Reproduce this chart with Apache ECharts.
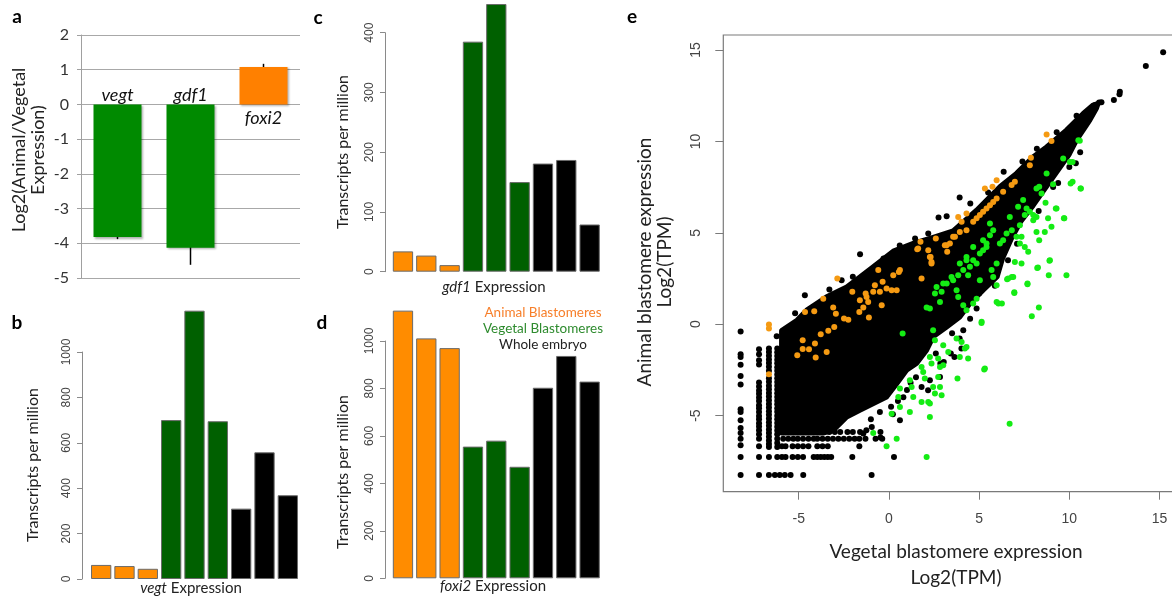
<!DOCTYPE html>
<html><head><meta charset="utf-8">
<script src="https://cdn.jsdelivr.net/npm/echarts@6/dist/echarts.min.js"></script>
<style>html,body{margin:0;padding:0;background:#fff}#c{width:1172px;height:596px}</style>
</head><body><div id="c"></div>
<script>
// ---------- Panel a: log2 ratio ----------
const ratioGenes = ['vegt', 'gdf1', 'foxi2'];
const ratioValues = [-3.82, -4.13, 1.08];
const ratioErrLow = [-3.88, -4.62, 1.00];
const ratioErrHigh = [-3.73, -3.67, 1.17];

// ---------- Panels b-d: TPM bars ----------
const sampleNames = ['A1', 'A2', 'A3', 'V1', 'V2', 'V3', 'W1', 'W2', 'W3'];
const sampleGroup = [0, 0, 0, 1, 1, 1, 2, 2, 2];
const vegtTPM = [62, 57, 45, 700, 1182, 695, 310, 558, 369];
const gdf1TPM = [34, 27, 11, 385, 448, 150, 181, 187, 79];
const foxi2TPM = [1128, 1011, 970, 555, 580, 470, 803, 937, 829];

// ---------- Panel e: scatter ----------
const scatterTicks = [-5, 0, 5, 10, 15];
// outline of the dense black cloud (vegetal x, animal y)
const cloudOutline = [
  [-5.95, -5.95], [-5.95, -0.35], [-5.1, 0.22], [-4.56, 0.77], [-3.45, 1.5], [-2.34, 2.04],
  [-1.61, 2.59], [-0.87, 3.14], [0.24, 4.0], [1.35, 4.42], [2.45, 4.75], [3.56, 5.1],
  [4.86, 6.24], [6.15, 7.52], [7.07, 8.25], [8.0, 9.16], [8.74, 9.7], [9.84, 10.62],
  [10.77, 11.53], [11.32, 11.99], [11.6, 12.08], [11.5, 11.8], [11.14, 11.17], [10.77, 10.62],
  [10.4, 10.07], [10.0, 9.3], [9.5, 8.6], [9.0, 7.9], [8.5, 7.2], [8.0, 6.5], [7.3, 5.6],
  [6.8, 4.7], [6.3, 3.6], [6.0, 2.6], [5.22, 1.86], [4.49, 1.13], [3.93, 0.4], [3.2, -0.15],
  [2.45, -0.69], [2.09, -1.42], [1.53, -2.15], [0.98, -2.52], [0.43, -3.25], [-0.13, -3.98],
  [-1.61, -4.71], [-2.34, -5.07], [-3.08, -5.8], [-3.64, -5.95]
];
const blackPoints = [
  [15.2, 14.87], [14.24, 14.12], [12.8, 12.71], [12.78, 12.58], [12.47, 12.26], [11.65, 12.13],
  [11.78, 12.14], [11.4, 11.98], [10.36, 8.8], [9.38, 7.73], [6.36, 8.34], [3.92, 6.93],
  [4.51, 6.6], [2.75, 5.84], [3.2, 5.91], [1.45, 4.69], [-1.6, 3.83], [-4.66, 1.59],
  [-6.22, -0.66], [-2.62, 2.41], [2.18, 4.96], [0.6, 4.3], [-0.3, 3.6], [-2.0, 2.6],
  [-3.3, 1.9], [-5.2, 0.6], [5.5, 7.2], [7.4, 8.9], [8.2, 9.6], [9.3, 10.5], [10.4, 11.4],
  [5.87, 2.1], [5.0, 1.68], [4.12, -0.33], [4.86, 0.86], [2.27, -3.07], [2.17, -3.61],
  [2.85, -2.15], [3.04, -2.06], [3.43, -1.6], [3.63, -1.79], [4.02, -1.33], [3.92, -0.78],
  [2.83, -2.88], [1.81, -3.43], [0.61, -5.25], [0.22, -4.93], [0.12, -4.52], [-1.25, -5.8],
  [-0.95, -5.62], [-0.47, -5.9], [-0.47, -6.2], [-1.42, -5.98], [1.5, -2.9], [1.0, -3.6],
  [0.5, -4.2], [1.2, -3.2], [0.8, -4.0], [-0.5, -4.8], [-1.0, -5.2], [2.6, -1.6], [3.5, -0.5],
  [4.5, 0.3], [6.6, 3.5], [7.1, 4.4], [8.3, 6.2], [9.1, 7.5], [10.0, 8.6], [10.6, 9.4]
];
// low-count genes fall on discrete log2(TPM) levels: [x, list of y]
const discreteColumns = [
  [-8.22, [-0.40, -1.64, -1.79, -2.21, -2.83, -3.30, -4.65, -4.80, -5.25, -5.67, -5.95, -6.26, -6.62, -7.26, -8.25]],
  [-7.20, [-1.37, -1.64, -1.97, -2.20, -3.19, -3.40, -3.62, -3.80, -4.01, -4.20, -4.43, -4.60, -4.80, -5.02, -5.20, -5.41, -5.60, -5.80, -6.02, -6.26, -6.68, -7.26, -8.25]],
  [-6.65, [-1.33, -1.52, -1.72, -1.93, -2.12, -2.33, -2.55, -2.95, -3.15, -3.36, -3.55, -3.76, -3.95, -4.16, -4.36, -4.55, -4.76, -4.95, -5.16, -5.36, -5.55, -5.76, -5.95, -6.16, -6.36, -6.55, -6.72, -7.26, -8.25]],
  [-6.19, [-1.33, -1.53, -1.74, -1.94, -2.14, -2.35, -2.55, -2.75, -2.96, -3.16, -3.36, -3.57, -3.77, -3.98, -4.18, -4.38, -4.59, -4.79, -5.00, -5.20, -5.40, -5.61, -5.81, -6.02, -6.26, -6.50, -6.72, -7.26]]
];
// [y, list of x]
const discreteRows = [
  [-8.25, [-6.32, -6.05, -5.77, -5.45, -4.75, -0.96]],
  [-7.26, [-5.93, -5.73, -5.34, -5.05, -4.76, -4.17, -3.97, -3.78, -3.58, -3.39, -3.20, -2.03, 0.28]],
  [-6.68, [-5.93, -5.73, -5.34, -5.05, -4.76, -4.46, -3.97, -3.68, -3.39, -1.64]],
  [-6.26, [-5.86, -5.58, -5.30, -5.05, -4.76, -4.46, -4.17, -3.97, -3.68, -3.39, -3.10, -2.80, -2.50, -2.20, -1.90, -1.64, -1.30, -0.74, -0.37]],
  [-5.90, [-3.30, -3.00, -2.70, -2.30, -2.00, -1.60]]
];
const animalPoints = [
  [-6.65, -0.02], [-6.65, -0.24], [-6.65, -2.74], [-5.08, -1.70], [-4.78, -0.88], [-4.78, -1.36],
  [-4.43, -1.37], [-4.10, -1.06], [-4.06, -1.82], [-3.45, -1.52], [-3.78, -0.55], [-3.36, -0.36],
  [-3.03, -0.15], [-4.65, 0.67], [-4.14, 0.71], [-3.64, 1.40], [-3.09, 0.91], [-2.94, 0.58],
  [-2.49, 0.31], [-2.25, 0.25], [-2.86, 2.50], [-2.03, 1.77], [-1.61, 1.31], [-1.64, 0.67],
  [-1.42, 0.91], [-1.29, 1.68], [-1.24, 1.49], [-1.15, 1.22], [-1.11, 0.37], [-0.87, 1.77],
  [-0.78, 2.13], [-0.59, 2.96], [-0.50, 1.77], [-0.40, 1.04], [-0.35, 2.32], [-0.13, 1.95],
  [0.15, 1.86], [0.43, 1.86], [0.24, 2.68], [0.55, 2.86], [1.62, 4.14], [1.81, 2.50],
  [2.18, 4.05], [2.27, 3.68], [2.36, 3.32], [2.60, 4.69], [3.20, 4.32], [3.23, 3.96],
  [3.56, 4.78], [4.30, 5.14], [8.74, 10.38], [9.01, 10.02], [7.87, 9.10], [7.81, 8.70],
  [5.97, 7.88], [5.32, 7.43], [5.74, 7.52], [6.98, 7.79], [6.80, 7.61], [6.33, 7.24],
  [5.97, 6.88], [5.78, 6.69], [5.60, 6.51], [5.41, 6.33], [5.22, 6.15], [5.04, 5.97],
  [4.86, 5.79], [4.67, 5.60], [3.93, 5.05], [3.66, 4.78], [3.38, 4.42], [4.30, 6.06],
  [4.03, 5.60], [3.84, 5.87], [1.75, 4.51], [1.57, 4.10], [2.31, 3.68], [2.36, 3.41],
  [3.10, 4.32], [0.61, 2.96]
];
const vegetalPoints = [
  [10.58, 10.03], [10.50, 10.07], [9.66, 9.07], [10.03, 8.88], [10.18, 8.88], [10.18, 7.79],
  [10.07, 7.70], [10.64, 7.43], [8.74, 8.25], [9.10, 7.65], [8.33, 7.52], [8.46, 7.15],
  [8.18, 7.43], [8.68, 6.64], [9.25, 6.33], [9.70, 5.79], [8.82, 5.79], [9.01, 5.33],
  [8.64, 5.05], [8.18, 5.05], [8.33, 4.60], [7.72, 3.96], [8.92, 3.50], [8.22, 3.08],
  [9.84, 2.68], [8.86, 2.68], [8.26, 3.10], [7.68, 2.19], [6.55, 2.46], [6.81, 2.59],
  [6.95, 1.75], [7.63, 6.33], [7.44, 6.79], [7.16, 6.42], [7.53, 5.97], [7.81, 6.15],
  [8.00, 5.97], [6.70, 5.87], [7.07, 4.78], [6.81, 5.14], [7.26, 5.42], [8.18, 5.87],
  [8.00, 5.69], [7.26, 4.42], [7.53, 4.23], [7.35, 4.78], [6.52, 4.96], [6.33, 4.60],
  [6.15, 4.42], [5.78, 5.14], [5.60, 4.87], [5.41, 4.42], [5.22, 4.05], [5.60, 5.51],
  [4.30, 3.50], [4.49, 3.14], [3.93, 3.32], [4.12, 2.96], [4.67, 3.50], [4.39, 2.68],
  [3.84, 2.68], [6.98, 3.41], [7.35, 3.32], [6.61, 2.50], [6.89, 2.59], [7.68, 2.23],
  [3.01, 2.23], [3.47, 2.59], [2.64, 2.04], [5.97, 3.32], [5.69, 2.96], [5.78, 2.59],
  [5.04, 2.41], [2.92, 1.77], [3.20, 2.23], [3.56, 2.41], [2.55, 1.68], [2.83, 1.22],
  [3.75, 1.86], [3.84, 1.49], [4.12, 1.04], [4.30, 0.77], [4.67, 1.13], [4.86, 1.40],
  [4.30, 3.68], [4.67, 4.23], [5.22, 4.60], [4.86, 3.32], [5.04, 3.87], [5.41, 4.23],
  [5.14, 0.13], [5.32, -2.42], [5.97, 2.13], [5.97, 1.22], [2.45, -0.33], [2.55, -0.88],
  [3.01, -1.15], [3.29, -1.52], [3.75, -0.78], [4.03, -0.97], [4.30, -1.24], [3.93, -1.79],
  [2.27, -1.79], [2.36, -2.15], [2.73, -1.88], [2.83, -2.34], [3.01, -2.24], [2.73, -2.88],
  [2.83, -3.43], [2.92, -3.89], [2.45, -3.43], [2.55, -3.79], [1.81, -2.34], [1.90, -2.61],
  [1.99, -2.97], [1.81, -4.25], [2.18, -4.25], [2.27, -4.34], [1.16, -3.07], [1.26, -3.43],
  [1.35, -3.98], [1.16, -4.80], [0.61, -3.52], [0.52, -3.98], [0.61, -4.53], [0.15, -4.89],
  [2.27, -5.07], [3.80, -2.97], [5.28, -2.48], [-0.87, -5.95], [-0.13, -6.68], [0.43, -6.26],
  [2.09, -7.26], [4.39, -1.88], [4.21, -1.33], [6.69, -5.45], [8.31, 0.91], [7.92, 0.44],
  [6.95, 1.71], [6.07, 1.13], [6.26, 1.13], [5.13, 0.07], [0.76, -0.51], [2.27, 0.86],
  [2.09, 0.91], [9.72, 5.79], [9.29, 6.33], [10.62, 7.43], [8.90, 3.47]
];

// ---------- styles ----------
const FONT = 'Lato, "Open Sans", sans-serif';
const SANS = '"Liberation Sans", Arial, sans-serif';
const ratioColors = ['#008A00', '#008A00', '#FF8000'];
const groupColors = ['#FF8C00', '#006000', '#000000'];

const discreteBlack = [];
discreteColumns.forEach(([x, ys]) => ys.forEach(y => discreteBlack.push([x, y])));
discreteRows.forEach(([y, xs]) => xs.forEach(x => discreteBlack.push([x, y])));

function tpmBars(values, idx) {
  return {
    type: 'bar', xAxisIndex: idx, yAxisIndex: idx, clip: false, barCategoryGap: '13%',
    data: values.map((v, i) => ({ value: v, itemStyle: { color: groupColors[sampleGroup[i]] } })),
    itemStyle: { borderColor: '#6a6a6a', borderWidth: 1 }
  };
}
function tpmYAxis(idx, max, interval, offset) {
  return {
    gridIndex: idx, type: 'value', min: 0, max: max, interval: interval, offset: offset,
    axisLine: { show: true, onZero: false, lineStyle: { color: '#8a8a8a', width: 1 } },
    axisTick: { show: true, length: 5, lineStyle: { color: '#8a8a8a' } },
    splitLine: { show: false },
    axisLabel: { rotate: 90, fontSize: 12, color: '#444', fontFamily: SANS, margin: 9, formatter: v => String(v) }
  };
}
function catAxis(idx, data) {
  return { gridIndex: idx, type: 'category', data: data, axisLine: { show: false }, axisTick: { show: false }, axisLabel: { show: false } };
}
function txt(text, x, y, size, opts) {
  return Object.assign({ type: 'text', x: x, y: y, style: Object.assign({
    text: text, fontSize: size, fontFamily: FONT, fill: '#222', align: 'center', verticalAlign: 'middle'
  }, (opts && opts.style) || {}) }, (opts && opts.el) || {});
}

const chart = echarts.init(document.getElementById('c'), null, { renderer: 'canvas' });
const option = {
  animation: false,
  backgroundColor: '#fff',
  grid: [
    { left: 81, top: 35, width: 219, height: 243, outerBoundsMode: 'none' },
    { left: 89.5, top: 352, width: 210, height: 227, outerBoundsMode: 'none' },
    { left: 391.3, top: 32.7, width: 210, height: 239, outerBoundsMode: 'none' },
    { left: 391.3, top: 341, width: 210, height: 237.3, outerBoundsMode: 'none' },
    { left: 723.3, top: 35, right: -11, height: 456.7, outerBoundsMode: 'none', show: true,
      borderColor: '#7a7a7a', borderWidth: 1.2, backgroundColor: 'transparent' }
  ],
  xAxis: [
    catAxis(0, ratioGenes),
    catAxis(1, sampleNames),
    catAxis(2, sampleNames),
    catAxis(3, sampleNames),
    { gridIndex: 4, type: 'value', min: -9.18, max: 16.3, position: 'bottom',
      axisLine: { show: false, onZero: false }, splitLine: { show: false },
      axisTick: { show: true, length: 8, lineStyle: { color: '#7a7a7a' }, customValues: scatterTicks },
      axisLabel: { customValues: scatterTicks, fontSize: 14, color: '#444', fontFamily: SANS, margin: 20 } }
  ],
  yAxis: [
    { gridIndex: 0, type: 'value', min: -5, max: 2, interval: 1,
      axisLine: { show: true, onZero: false, lineStyle: { color: '#A0A0A0' } },
      axisTick: { show: true, length: 4, lineStyle: { color: '#A0A0A0' } },
      splitLine: { show: true, lineStyle: { color: '#A8A8A8', width: 1 } },
      axisLabel: { fontSize: 16, color: '#333', fontFamily: FONT, margin: 12 } },
    tpmYAxis(1, 1000, 200, 7.5),
    tpmYAxis(2, 400, 100, 6.3),
    tpmYAxis(3, 1000, 200, 6.3),
    { gridIndex: 4, type: 'value', min: -9.16, max: 15.82, position: 'left',
      axisLine: { show: false, onZero: false }, splitLine: { show: false },
      axisTick: { show: true, length: 8, lineStyle: { color: '#7a7a7a' }, customValues: scatterTicks },
      axisLabel: { customValues: scatterTicks, rotate: 90, fontSize: 14, color: '#444', fontFamily: SANS, margin: 20 } }
  ],
  series: [
    { type: 'bar', xAxisIndex: 0, yAxisIndex: 0, barWidth: 48,
      data: ratioValues.map((v, i) => ({ value: v, itemStyle: { color: ratioColors[i] } })),
      itemStyle: { shadowBlur: 2, shadowOffsetX: 1.5, shadowOffsetY: 1.5, shadowColor: 'rgba(0,0,0,0.3)' } },
    { type: 'custom', xAxisIndex: 0, yAxisIndex: 0,
      data: ratioGenes.map((g, i) => [i, ratioErrLow[i], ratioErrHigh[i]]),
      renderItem: (params, api) => {
        const p1 = api.coord([api.value(0), api.value(1)]);
        const p2 = api.coord([api.value(0), api.value(2)]);
        return { type: 'line', shape: { x1: p1[0], y1: p1[1], x2: p2[0], y2: p2[1] }, style: { stroke: '#000', lineWidth: 1.5 } };
      } },
    { type: 'custom', xAxisIndex: 0, yAxisIndex: 0,
      data: ratioGenes.map((g, i) => [i, 0]),
      renderItem: (params, api) => {
        const p = api.coord([api.value(0), api.value(1)]);
        const above = ratioValues[params.dataIndex] < 0;
        return { type: 'text', x: p[0], y: p[1] + (above ? -9 : 14), style: {
          text: ratioGenes[params.dataIndex], fontSize: 18, fontStyle: 'italic', fontFamily: FONT,
          fill: '#111', align: 'center', verticalAlign: 'middle' } };
      } },
    tpmBars(vegtTPM, 1),
    tpmBars(gdf1TPM, 2),
    tpmBars(foxi2TPM, 3),
    { type: 'custom', xAxisIndex: 4, yAxisIndex: 4, data: [[0, 0]], clip: true,
      renderItem: (params, api) => ({
        type: 'polygon', shape: { points: cloudOutline.map(p => api.coord(p)) },
        style: { fill: '#000', stroke: '#000', lineWidth: 5, lineJoin: 'round' } }) },
    { type: 'scatter', xAxisIndex: 4, yAxisIndex: 4, symbolSize: 6, data: blackPoints.concat(discreteBlack),
      itemStyle: { color: '#000', opacity: 1 } },
    { type: 'scatter', xAxisIndex: 4, yAxisIndex: 4, symbolSize: 6, data: animalPoints,
      itemStyle: { color: '#F59A12', opacity: 1 } },
    { type: 'scatter', xAxisIndex: 4, yAxisIndex: 4, symbolSize: 6, data: vegetalPoints,
      itemStyle: { color: '#14EC14', opacity: 1 } }
  ],
  graphic: [
    txt('a', 17, 17, 19, { style: { fontWeight: 'bold', fill: '#000' } }),
    txt('b', 17, 323, 19, { style: { fontWeight: 'bold', fill: '#000' } }),
    txt('c', 318, 18, 19, { style: { fontWeight: 'bold', fill: '#000' } }),
    txt('d', 322, 323, 19, { style: { fontWeight: 'bold', fill: '#000' } }),
    txt('e', 632, 17, 19, { style: { fontWeight: 'bold', fill: '#000' } }),
    txt('Log2(Animal/Vegetal\nExpression)', 29, 150, 18, { style: { lineHeight: 19 }, el: { rotation: Math.PI / 2 } }),
    txt('Transcripts per million', 33, 465, 16, { el: { rotation: Math.PI / 2 } }),
    txt('Transcripts per million', 343, 152, 16, { el: { rotation: Math.PI / 2 } }),
    txt('Transcripts per million', 343, 472, 16, { el: { rotation: Math.PI / 2 } }),
    txt('{i|vegt} Expression', 191, 588, 15, { style: { rich: { i: { fontStyle: 'italic', fontSize: 15, fontFamily: FONT, fill: '#222' } } } }),
    txt('{i|gdf1} Expression', 494, 287, 15, { style: { rich: { i: { fontStyle: 'italic', fontSize: 15, fontFamily: FONT, fill: '#222' } } } }),
    txt('{i|foxi2} Expression', 493, 586, 15, { style: { rich: { i: { fontStyle: 'italic', fontSize: 15, fontFamily: FONT, fill: '#222' } } } }),
    txt('Animal Blastomeres', 543, 313, 13.5, { style: { fill: '#F77F2A' } }),
    txt('Vegetal Blastomeres', 543, 329, 13.5, { style: { fill: '#2E8B2E' } }),
    txt('Whole embryo', 543, 345, 13.5, { style: { fill: '#222' } }),
    txt('Vegetal blastomere expression\nLog2(TPM)', 956, 565, 19, { style: { lineHeight: 26 } }),
    txt('Animal blastomere expression\nLog2(TPM)', 655, 262, 19, { style: { lineHeight: 20 }, el: { rotation: Math.PI / 2 } })
  ]
};
chart.setOption(option);
</script></body></html>
